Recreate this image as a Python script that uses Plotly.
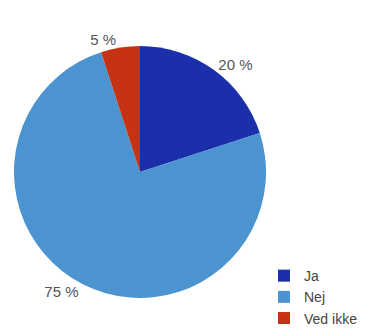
import plotly.graph_objects as go

labels = ["Ja", "Nej", "Ved ikke"]
values = [20, 75, 5]
colors = ["#1c2fab", "#4b94cf", "#c63214"]

fig = go.Figure(go.Pie(
    labels=labels,
    values=values,
    sort=False,
    direction="clockwise",
    rotation=0,
    marker=dict(colors=colors, line=dict(color="white", width=0)),
    texttemplate="%{value} %",
    textposition="outside",
    textfont=dict(family="Liberation Sans, Arial", size=15, color="#555555"),
    showlegend=True,
    automargin=False,
    domain=dict(x=[0.0, 0.7097], y=[0.1239, 0.8852]),
    hoverinfo="label+percent",
))

fig.update_layout(
    width=372,
    height=331,
    margin=dict(l=0, r=0, t=0, b=0),
    paper_bgcolor="white",
    plot_bgcolor="white",
    legend=dict(
        x=256 / 372, y=0.015, xanchor="left", yanchor="bottom",
        font=dict(family="Liberation Sans, Arial", size=14, color="#444444"),
        itemwidth=30,
        tracegroupgap=0,
    ),
)

fig.write_html("out.html")
